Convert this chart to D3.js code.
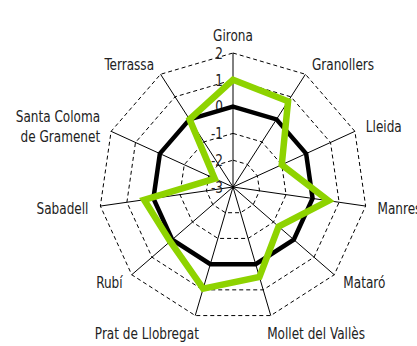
<!DOCTYPE html>
<html>
<head>
<meta charset="utf-8">
<script src="https://cdn.jsdelivr.net/npm/d3@7"></script>
<style>
  body { margin: 0; background: #fff; }
  text { font-family: "Liberation Sans Narrow", "DejaVu Sans Condensed", "Roboto", sans-serif; font-stretch: condensed; fill: #222; }
</style>
</head>
<body>
<div id="chart"></div>
<script>
// Chart data
const cities = ["Girona", "Granollers", "Lleida", "Manresa", "Mataró", "Mollet del Vallès",
    "Prat de Llobregat", "Rubí", "Sabadell", "Santa Coloma\nde Gramenet", "Terrassa"];
const reference = [0, 0, 0, 0, 0, 0, 0, 0, 0, 0, 0];
const scores = [1.0, 0.8, -1.0, 0.6, -0.75, 0.5, 0.95, 0.1, 0.35, -2.25, 0.0];
const ticks = [-3, -2, -1, 0, 1, 2];

const width = 417, height = 346;
const cx = 233, cy = 187, outer = 134;
const squeeze = 0.84; // narrow the text like the condensed face of the original

const svg = d3.select("#chart").append("svg")
    .attr("width", width)
    .attr("height", height);

const g = svg.append("g").attr("transform", `translate(${cx},${cy})`);

const angle = d3.scaleLinear()
    .domain([0, cities.length])
    .range([0, 2 * Math.PI]);

const r = d3.scaleLinear()
    .domain([-3, 2])
    .range([0, outer]);

const point = (i, v) => [Math.sin(angle(i)) * r(v), -Math.cos(angle(i)) * r(v)];

// dashed rings
const ring = d3.line().curve(d3.curveLinearClosed);
g.selectAll(".ring")
    .data(ticks.filter(t => t > -3))
    .join("path")
    .attr("d", t => ring(cities.map((c, i) => point(i, t))))
    .attr("fill", "none")
    .attr("stroke", "#000")
    .attr("stroke-width", 1)
    .attr("stroke-dasharray", "4,3");

// spokes
g.selectAll(".spoke")
    .data(cities)
    .join("line")
    .attr("x1", 0).attr("y1", 0)
    .attr("x2", (d, i) => point(i, 2)[0])
    .attr("y2", (d, i) => point(i, 2)[1])
    .attr("stroke", "#000")
    .attr("stroke-width", 1);

// tick labels along the first axis
g.selectAll(".tick")
    .data(ticks)
    .join("text")
    .attr("transform", t => `translate(-10,${-r(t)}) scale(${squeeze},1)`)
    .attr("dy", "0.36em")
    .attr("text-anchor", "end")
    .style("font-size", "16px")
    .text(d => d);

// series
const radar = d3.lineRadial()
    .angle((d, i) => angle(i))
    .radius(d => r(d))
    .curve(d3.curveLinearClosed);

g.append("path")
    .datum(reference)
    .attr("d", radar)
    .attr("fill", "none")
    .attr("stroke", "#000")
    .attr("stroke-width", 4.5)
    .attr("stroke-linejoin", "miter");

g.append("path")
    .datum(scores)
    .attr("d", radar)
    .attr("fill", "none")
    .attr("stroke", "#8ed300")
    .attr("stroke-width", 6.5)
    .attr("stroke-linejoin", "miter");

// city labels
const labels = g.selectAll(".label")
    .data(cities)
    .join("text")
    .style("font-size", "16px")
    .attr("text-anchor", (d, i) => {
        const s = Math.sin(angle(i));
        return s > 0.05 ? "start" : s < -0.05 ? "end" : "middle";
    })
    .attr("transform", (d, i) => {
        const a = angle(i);
        const s = Math.sin(a), c = Math.cos(a);
        let x = s * (outer + 12), y = -c * (outer + 12);
        if (Math.abs(c) > 0.9) {
            y -= c * 6;
            x -= Math.sign(s) * 7;
        }
        const lines = d.split("\n").length;
        return `translate(${x},${y - (lines - 1) * 10}) scale(${squeeze},1)`;
    });

labels.selectAll("tspan")
    .data(d => d.split("\n"))
    .join("tspan")
    .attr("x", 0)
    .attr("dy", (d, i) => i === 0 ? "0.36em" : "1.23em")
    .text(d => d);
</script>
</body>
</html>
